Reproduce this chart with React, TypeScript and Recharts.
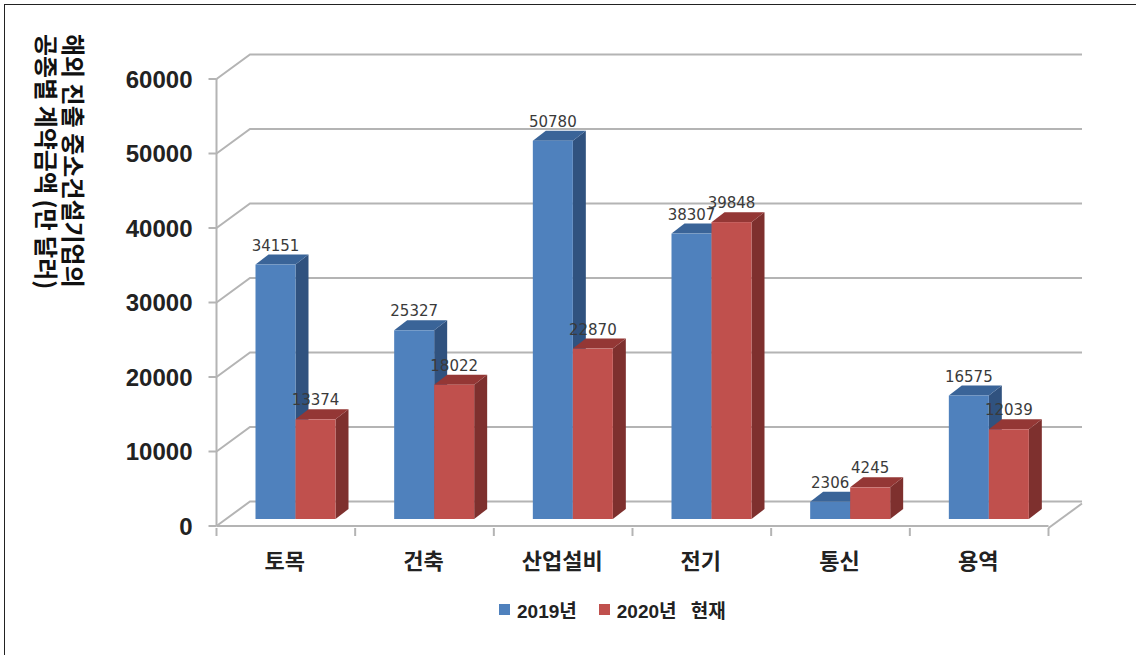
import {
  Bar,
  BarChart,
  CartesianGrid,
  LabelList,
  Legend,
  XAxis,
  YAxis,
} from "recharts";

const categories = ["토목", "건축", "산업설비", "전기", "통신", "용역"];
const values2019 = [34151, 25327, 50780, 38307, 2306, 16575];
const values2020 = [13374, 18022, 22870, 39848, 4245, 12039];
const yTicks = [0, 10000, 20000, 30000, 40000, 50000, 60000];

const chartData = categories.map((name, i) => ({
  name,
  y2019: values2019[i],
  y2020: values2020[i],
}));

const WIDTH = 1136;
const HEIGHT = 655;
const PLOT_LEFT = 216.5;
const PLOT_RIGHT = 1048.5;
const BAND = (PLOT_RIGHT - PLOT_LEFT) / categories.length;

// 벽면 깊이
const WALL_DX = 33.5;
const WALL_DY = -24.5;
// 막대는 바닥 중간쯤에 놓이고 자체 두께를 가진다
const BAR_SHIFT_X = 10;
const BAR_SHIFT_Y = -7;
const BAR_DX = 13;
const BAR_DY = -10;

const GRID_COLOR = "#b4b4b4";
const KR_FONT = '"Noto Sans CJK KR", sans-serif';

const shades: Record<string, { side: string; top: string }> = {
  "#4f81bd": { side: "#30527f", top: "#3a6498" },
  "#c0504d": { side: "#7e302e", top: "#943735" },
};

function Bar3D({ x, y, width, height, fill }: any) {
  const left = x + BAR_SHIFT_X;
  const right = left + width;
  const top = y + BAR_SHIFT_Y;
  const bottom = top + height;
  const { side, top: topColor } = shades[fill];
  return (
    <g>
      <path
        d={`M${right},${top} L${right + BAR_DX},${top + BAR_DY} L${right + BAR_DX},${bottom + BAR_DY} L${right},${bottom} Z`}
        fill={side}
      />
      <path
        d={`M${left},${top} L${left + BAR_DX},${top + BAR_DY} L${right + BAR_DX},${top + BAR_DY} L${right},${top} Z`}
        fill={topColor}
      />
      <rect x={left} y={top} width={width} height={height} fill={fill} />
    </g>
  );
}

function ValueLabel({ x, y, width, value }: any) {
  return (
    <text
      x={x + BAR_SHIFT_X + width / 2}
      y={y + BAR_SHIFT_Y - 14}
      textAnchor="middle"
      fontFamily="DejaVu Sans"
      fontSize={15}
      fill="#3a3a3a"
    >
      {value}
    </text>
  );
}

// 왼쪽 사선 + 뒷벽 가로선
function WallLine({ x1, y1, x2 }: any) {
  const backY = y1 + WALL_DY;
  return (
    <path
      d={`M${x1},${y1} L${x1 + WALL_DX},${backY} L${x2 + WALL_DX},${backY}`}
      fill="none"
      stroke={GRID_COLOR}
      strokeWidth={2}
    />
  );
}

function CategoryTick({ x, y, index, payload }: any) {
  const left = x - BAND / 2;
  const right = x + BAND / 2;
  return (
    <g>
      <line x1={left} y1={y - 8} x2={left} y2={y} stroke={GRID_COLOR} strokeWidth={2} />
      {index === categories.length - 1 && (
        <>
          <line x1={right} y1={y - 8} x2={right} y2={y} stroke={GRID_COLOR} strokeWidth={2} />
          <path
            d={`M${right},${y - 8} L${right + WALL_DX},${y - 8 + WALL_DY}`}
            stroke={GRID_COLOR}
            strokeWidth={2}
            fill="none"
          />
        </>
      )}
      <text
        x={x - 1}
        y={y + 33}
        textAnchor="middle"
        fontFamily={KR_FONT}
        fontWeight={700}
        fontSize={22}
        fill="#222"
      >
        {payload.value}
      </text>
    </g>
  );
}

function LegendRow({ payload }: any) {
  return (
    <div
      style={{
        display: "flex",
        alignItems: "center",
        fontFamily: '"Liberation Sans", "Noto Sans CJK KR", sans-serif',
        fontWeight: 700,
        fontSize: 19,
        wordSpacing: 9,
        color: "#222",
      }}
    >
      {payload.map((item: any, i: number) => (
        <div key={item.value} style={{ display: "flex", alignItems: "center", marginRight: i === 0 ? 22 : 0 }}>
          <span style={{ width: 11, height: 11, background: item.color, marginRight: 7 }} />
          <span style={{ whiteSpace: "pre" }}>{item.value}</span>
        </div>
      ))}
    </div>
  );
}

export default function App() {
  return (
    <div style={{ position: "absolute", left: 0, top: 0, width: WIDTH, height: HEIGHT, background: "#fff", overflow: "hidden" }}>
      {/* 바깥 테두리 */}
      <div style={{ position: "absolute", left: 4, top: 4, width: WIDTH, height: HEIGHT, borderLeft: "1.5px solid #222", borderTop: "1.5px solid #222" }} />
      <BarChart
        width={WIDTH}
        height={HEIGHT}
        data={chartData}
        barSize={40}
        barGap={0}
        margin={{ top: 79, right: WIDTH - PLOT_RIGHT, bottom: 79, left: PLOT_LEFT - 100 }}
        style={{ position: "absolute", left: 0, top: 0 }}
      >
        <CartesianGrid vertical={false} horizontal={WallLine as any} />
        <XAxis
          dataKey="name"
          height={50}
          interval={0}
          axisLine={{ stroke: GRID_COLOR, strokeWidth: 2 }}
          tickLine={false}
          tick={CategoryTick as any}
          tickSize={8}
        />
        <YAxis
          width={100}
          domain={[0, 60000]}
          ticks={yTicks}
          interval={0}
          axisLine={{ stroke: GRID_COLOR, strokeWidth: 2 }}
          tickLine={{ stroke: GRID_COLOR, strokeWidth: 2 }}
          tickSize={8}
          tickMargin={16}
          tick={{ fontFamily: "Liberation Sans", fontWeight: 700, fontSize: 24, fill: "#222" }}
        />
        <Legend
          layout="horizontal"
          verticalAlign="middle"
          content={LegendRow as any}
          wrapperStyle={{ left: 499, top: 596, width: "auto" }}
        />
        <Bar dataKey="y2019" name="2019년" fill="#4f81bd" shape={Bar3D as any} isAnimationActive={false}>
          <LabelList dataKey="y2019" content={ValueLabel as any} />
        </Bar>
        <Bar dataKey="y2020" name="2020년 현재" fill="#c0504d" shape={Bar3D as any} isAnimationActive={false}>
          <LabelList dataKey="y2020" content={ValueLabel as any} />
        </Bar>
        {/* 세로 제목 */}
        <g transform="translate(64 34) rotate(90)" fontFamily={KR_FONT} fontWeight={700} fontSize={24} fill="#111">
          <text x={0} y={0}>해외 진출 중소건설기업의</text>
          <text x={0} y={27}>공종별 계약금액 (만 달러)</text>
        </g>
      </BarChart>
    </div>
  );
}
